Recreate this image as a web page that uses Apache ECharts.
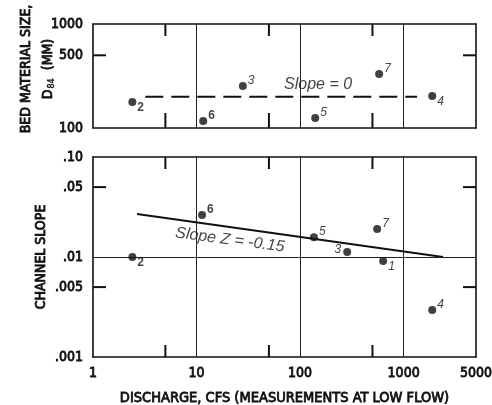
<!DOCTYPE html>
<html>
<head>
<meta charset="utf-8">
<script src="https://cdn.jsdelivr.net/npm/echarts@6/dist/echarts.min.js"></script>
<style>
  html, body { margin: 0; padding: 0; background: #fff; }
  #chart { width: 492px; height: 405px; }
</style>
</head>
<body>
<div id="chart"></div>
<script>
// top panel: bed material size D84 (mm) vs discharge (cfs)
const sizeStations = ['2', '6', '3', '5', '7', '4'];
const sizeDischarge = [2.4, 11.6, 28, 140, 580, 1890];
const sizeD84 = [178, 117, 254, 125, 330, 203];

// bottom panel: channel slope vs discharge
const slopeStations = ['2', '6', '5', '3', '7', '1', '4'];
const slopeDischarge = [2.4, 11.3, 136, 285, 555, 634, 1890];
const slopeValues = [0.0100, 0.0263, 0.0158, 0.0112, 0.0191, 0.0091, 0.00295];

// fitted lines
const flatLineX = [3.2, 1350];
const flatLineY = [200, 200];
const trendLineX = [2.66, 2400];
const trendLineY = [0.0269, 0.0100];

// annotations
const flatNote = { text: 'Slope = 0', x: 67, y: 259 };
const trendNote = { text: 'Slope Z = -0.15', x: 21, y: 0.0148 };

// axes
const dischargeRange = [1, 5000];
const sizeRange = [100, 1000];
const slopeRange = [0.001, 0.1];
const xLabelValues = [1, 10, 100, 1000, 5000];
const xGridValues = [10, 100, 1000];
const xMinorTicks = [5, 50, 500];
const sizeLabelValues = [100, 500, 1000];
const sizeMinorTicks = [500];
const slopeLabelValues = [0.001, 0.005, 0.01, 0.05, 0.1];
const slopeLabelText = ['.001', '.005', '.01', '.05', '.10'];
const slopeGridValues = [0.01];
const slopeMinorTicks = [0.005, 0.05];

const FONT = "'DejaVu Sans Condensed', 'DejaVu Sans', sans-serif";
const INK = '#111';

// where each station number sits around its dot
const sizeLabelSide = { '2': 'below', '6': 'above', '3': 'above', '5': 'above', '7': 'above', '4': 'below' };
const slopeLabelSide = { '2': 'below', '6': 'above', '5': 'above', '3': 'left', '7': 'above', '1': 'below', '4': 'above' };

function stationLabel(name, side) {
  const upright = name === '2' || name === '6';
  const lbl = {
    show: true,
    formatter: name,
    color: INK,
    fontFamily: 'Liberation Sans',
    fontSize: 12,
    fontStyle: upright ? 'normal' : 'italic',
    fontWeight: upright ? 'bold' : 'normal'
  };
  if (side === 'left') {
    lbl.position = 'left';
    lbl.distance = 2;
    lbl.offset = [0, -2];
  } else {
    lbl.position = 'right';
    lbl.distance = 1;
    lbl.offset = side === 'above' ? [0, -5] : [0, 6];
  }
  return lbl;
}

function points(xs, ys, names, sides) {
  return xs.map((x, i) => ({
    value: [x, ys[i]],
    label: stationLabel(names[i], sides[names[i]])
  }));
}

function frameAxis(grid, position, range, extra) {
  return Object.assign({
    gridIndex: grid,
    type: 'log',
    position: position,
    min: range[0], max: range[1],
    axisLine: { show: true, onZero: false, lineStyle: { color: INK, width: 1.6 } },
    axisTick: { show: false },
    axisLabel: { show: false },
    splitLine: { show: false }
  }, extra);
}

// short inward tick marks on the frame, placed with the axes' scales
function tickMarks(xi, yi, data, size, offset) {
  return {
    type: 'scatter',
    xAxisIndex: xi, yAxisIndex: yi,
    data: data,
    symbol: 'rect',
    symbolSize: size,
    symbolOffset: offset,
    itemStyle: { color: INK, opacity: 1 },
    clip: false,
    silent: true,
    z: 6
  };
}

// grid lines at the decades, drawn through the axes' own scales
function gridLines(xs, ys) {
  return {
    silent: true,
    symbol: 'none',
    label: { show: false },
    lineStyle: { color: '#222', width: 1, type: 'solid' },
    data: xs.map(v => ({ xAxis: v })).concat(ys.map(v => ({ yAxis: v })))
  };
}

const inkText = { color: INK, fontFamily: FONT, textBorderColor: INK, textBorderWidth: 0.8 };
const labelStyle = Object.assign({ show: true, fontSize: 14 }, inkText);

const chart = echarts.init(document.getElementById('chart'));

chart.setOption({
  backgroundColor: '#fff',
  animation: false,
  grid: [
    { left: 93, right: 16, top: 24, height: 104, outerBoundsMode: 'none' },
    { left: 93, right: 16, top: 157, height: 200, outerBoundsMode: 'none' }
  ],
  xAxis: [
    frameAxis(0, 'bottom', dischargeRange),
    frameAxis(0, 'top', dischargeRange),
    frameAxis(1, 'bottom', dischargeRange, {
      axisLabel: Object.assign({}, labelStyle, {
        margin: 9,
        customValues: xLabelValues,
        formatter: v => String(Math.round(v))
      }),
      name: 'DISCHARGE, CFS (MEASUREMENTS AT LOW FLOW)',
      nameLocation: 'middle',
      nameMoveOverlap: false,
      nameGap: 34,
      nameTextStyle: Object.assign({ fontSize: 14.5 }, inkText)
    }),
    frameAxis(1, 'top', dischargeRange)
  ],
  yAxis: [
    frameAxis(0, 'left', sizeRange, {
      axisLabel: Object.assign({}, labelStyle, {
        margin: 10,
        customValues: sizeLabelValues,
        formatter: v => String(Math.round(v))
      }),
      name: 'BED MATERIAL SIZE,\n{t|D}{s|84}{t|  (MM)}',
      nameLocation: 'middle',
      nameMoveOverlap: false,
      nameGap: 34,
      nameTextStyle: Object.assign({
        fontSize: 14, lineHeight: 22,
        padding: [0, 0, 0, 14],
        rich: {
          t: Object.assign({ fontSize: 14 }, inkText),
          s: Object.assign({ fontSize: 9, padding: [8, 0, 0, 1] }, inkText, { textBorderWidth: 0.4 })
        }
      }, inkText)
    }),
    frameAxis(0, 'right', sizeRange),
    frameAxis(1, 'left', slopeRange, {
      axisLabel: Object.assign({}, labelStyle, {
        margin: 10,
        customValues: slopeLabelValues,
        formatter: v => {
          const i = slopeLabelValues.findIndex(s => Math.abs(s - v) / s < 1e-6);
          return i >= 0 ? slopeLabelText[i] : '';
        }
      }),
      name: 'CHANNEL SLOPE',
      nameLocation: 'middle',
      nameMoveOverlap: false,
      nameGap: 45,
      nameTextStyle: Object.assign({ fontSize: 14 }, inkText)
    }),
    frameAxis(1, 'right', slopeRange)
  ],
  series: [
    {
      type: 'line',
      xAxisIndex: 0, yAxisIndex: 0,
      data: flatLineX.map((x, i) => [x, flatLineY[i]]),
      symbol: 'none',
      lineStyle: { color: INK, width: 2, type: [18, 8] },
      markLine: gridLines(xGridValues, []),
      z: 3
    },
    {
      type: 'scatter',
      xAxisIndex: 0, yAxisIndex: 0,
      data: [[flatNote.x, flatNote.y]],
      symbolSize: 0,
      label: {
        show: true, formatter: flatNote.text, position: 'right', distance: 0,
        color: INK, fontFamily: 'Liberation Sans', fontSize: 16, fontStyle: 'italic',
        backgroundColor: '#fff', padding: [1, 2, 1, 2]
      },
      z: 4
    },
    {
      type: 'scatter',
      xAxisIndex: 0, yAxisIndex: 0,
      data: points(sizeDischarge, sizeD84, sizeStations, sizeLabelSide),
      symbolSize: 8,
      itemStyle: { color: INK },
      z: 5
    },
    // top panel frame ticks
    tickMarks(0, 0, xMinorTicks.map(v => [v, sizeRange[0]]), [2, 15], [0, -7.5]),
    tickMarks(0, 0, xMinorTicks.map(v => [v, sizeRange[1]]), [2, 12], [0, 6]),
    tickMarks(0, 0, sizeMinorTicks.map(v => [dischargeRange[0], v]), [13, 2], [6.5, 0]),
    tickMarks(0, 0, sizeMinorTicks.map(v => [dischargeRange[1], v]), [13, 2], [-6.5, 0]),
    {
      type: 'line',
      xAxisIndex: 2, yAxisIndex: 2,
      data: trendLineX.map((x, i) => [x, trendLineY[i]]),
      symbol: 'none',
      lineStyle: { color: INK, width: 2 },
      markLine: gridLines(xGridValues, slopeGridValues),
      z: 3
    },
    {
      type: 'scatter',
      xAxisIndex: 2, yAxisIndex: 2,
      data: [[trendNote.x, trendNote.y]],
      symbolSize: 0,
      label: {
        show: true, formatter: trendNote.text, position: 'inside', rotate: -7.5,
        color: INK, fontFamily: 'Liberation Sans', fontSize: 16, fontStyle: 'italic'
      },
      z: 4
    },
    {
      type: 'scatter',
      xAxisIndex: 2, yAxisIndex: 2,
      data: points(slopeDischarge, slopeValues, slopeStations, slopeLabelSide),
      symbolSize: 8,
      itemStyle: { color: INK },
      z: 5
    },
    // bottom panel frame ticks
    tickMarks(2, 2, xMinorTicks.map(v => [v, slopeRange[0]]), [2, 12], [0, -6]),
    tickMarks(2, 2, xMinorTicks.map(v => [v, slopeRange[1]]), [2, 12], [0, 6]),
    tickMarks(2, 2, slopeMinorTicks.map(v => [dischargeRange[0], v]), [13, 2], [6.5, 0]),
    tickMarks(2, 2, slopeMinorTicks.map(v => [dischargeRange[1], v]), [13, 2], [-6.5, 0])
  ]
});
</script>
</body>
</html>
